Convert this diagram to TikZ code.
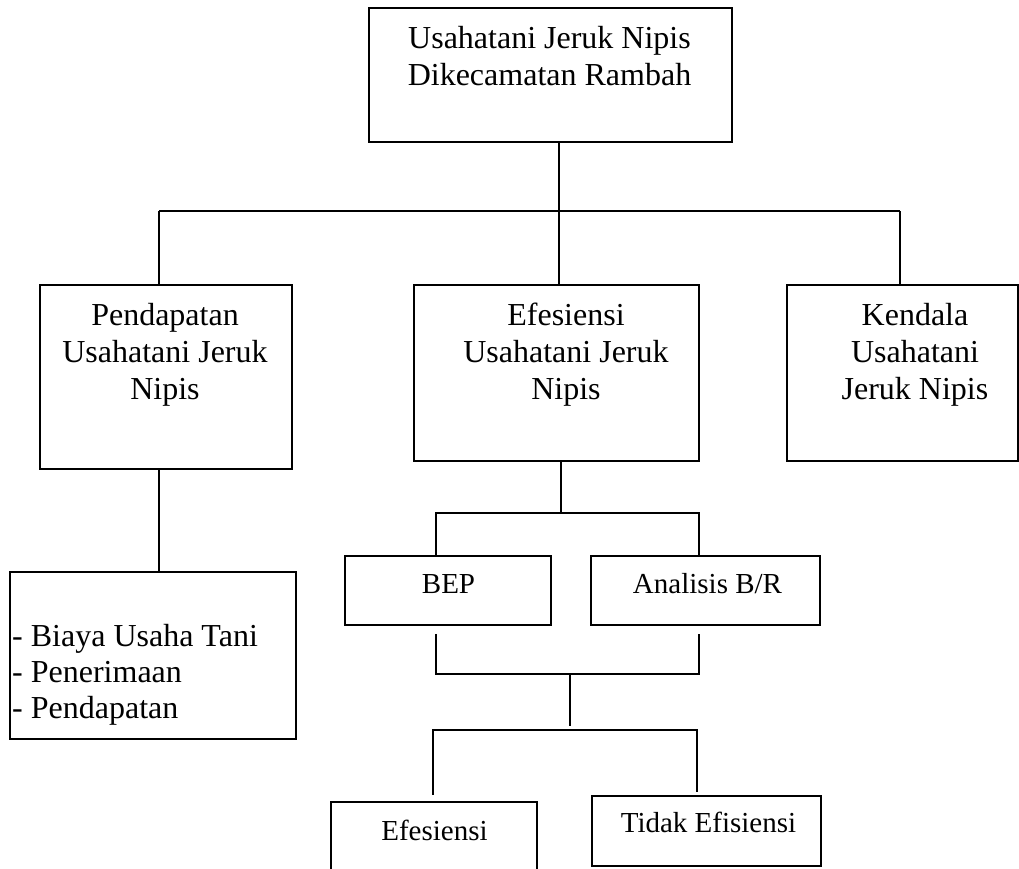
\documentclass[tikz,border=0pt]{standalone}
\usepackage{fontspec}
\setmainfont{Liberation Serif}
\newcommand\mlines[1]{\begin{tabular}[t]{@{}c@{}}#1\end{tabular}}
\newcommand\llines[1]{\begin{tabular}[t]{@{}l@{}}#1\end{tabular}}
\begin{document}
\begin{tikzpicture}[x=1pt,y=-1pt,
  box/.style={draw,line width=1.6pt,rectangle,inner sep=0pt},
  conn/.style={line width=1.5pt},
  bigtxt/.style={inner sep=0pt,anchor=base,font=\fontsize{32}{37}\selectfont},
  smalltxt/.style={inner sep=0pt,anchor=base,font=\fontsize{29}{34}\selectfont}]
\useasboundingbox (0,0) rectangle (1019,869);
% boxes
\node[box,minimum width=363pt,minimum height=134pt] (top) at (550.5,75) {};
\node[box,minimum width=252pt,minimum height=184pt] (pend) at (166,377) {};
\node[box,minimum width=285pt,minimum height=176pt] (efes) at (556.5,373) {};
\node[box,minimum width=231pt,minimum height=176pt] (kend) at (902.5,373) {};
\node[box,minimum width=286pt,minimum height=167pt] (list) at (153,655.5) {};
\node[box,minimum width=206pt,minimum height=69pt] (bep) at (448,590.5) {};
\node[box,minimum width=229pt,minimum height=69pt] (br) at (705.5,590.5) {};
\node[inner sep=0pt,minimum width=206pt,minimum height=67pt] (eff) at (434,835.5) {};
\draw[line width=1.6pt] (eff.south west) -- (eff.north west) -- (eff.north east) -- (eff.south east);
\node[box,minimum width=229pt,minimum height=70pt] (tidak) at (706.5,831) {};
% texts
\node[bigtxt] (ttop) at (549.5,49) {\mlines{Usahatani Jeruk Nipis\\Dikecamatan Rambah}};
\node[bigtxt] (tpend) at (165,325) {\mlines{Pendapatan\\Usahatani Jeruk\\Nipis}};
\node[bigtxt] (tefes) at (566,325) {\mlines{Efesiensi\\Usahatani Jeruk\\Nipis}};
\node[bigtxt] (tkend) at (915,325) {\mlines{Kendala\\Usahatani\\Jeruk Nipis}};
\node[inner sep=0pt,anchor=base west,font=\fontsize{32}{36}\selectfont] (tlist) at (12,646) {\llines{- Biaya Usaha Tani\\- Penerimaan\\- Pendapatan}};
\node[smalltxt] (tbep) at (448.5,593) {BEP};
\node[smalltxt] (tbr) at (707.5,593) {Analisis B/R};
\node[smalltxt] (teff) at (434.5,840) {Efesiensi};
\node[smalltxt] (ttidak) at (708.5,832) {Tidak Efisiensi};
% junction coordinates
\coordinate (j1) at (559,211);
\coordinate (bL) at (159,211);
\coordinate (bR) at (900,211);
\coordinate (m1) at (561,513);
\coordinate (mL) at (436,513);
\coordinate (mR) at (699,513);
\coordinate (nL) at (436,674);
\coordinate (nR) at (699,674);
\coordinate (c1) at (570,674);
\coordinate (c2) at (570,726);
\coordinate (pL) at (433,730);
\coordinate (pR) at (697,730);
% connectors
\draw[conn] (top.south -| j1) -- (j1 |- efes.north);
\draw[conn] (bL) -- (bR);
\draw[conn] (bL) -- (bL |- pend.north);
\draw[conn] (bR) -- (bR |- kend.north);
\draw[conn] (pend.south -| bL) -- (bL |- list.north);
\draw[conn] (efes.south -| m1) -- (m1);
\draw[conn] (mL |- bep.north) -- (mL) -- (mR) -- (mR |- br.north);
\draw[conn] ([yshift=-8pt]bep.south -| nL) -- (nL) -- (nR) -- ([yshift=-8pt]br.south -| nR);
\draw[conn] (c1) -- (c2);
\draw[conn] ([yshift=7pt]eff.north -| pL) -- (pL) -- (pR) -- ([yshift=3pt]tidak.north -| pR);
\end{tikzpicture}
\end{document}
